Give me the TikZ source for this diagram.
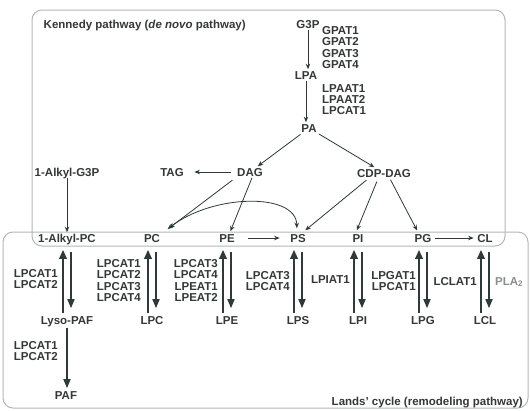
\documentclass[tikz,border=0pt]{standalone}
\usepackage{fontspec}
\setmainfont{Liberation Sans}
\usetikzlibrary{arrows.meta}
\definecolor{txt}{HTML}{353838}
\definecolor{arr}{HTML}{2E3A3A}
\definecolor{boxc}{HTML}{B4B8B8}
\definecolor{pla}{HTML}{8A8E8E}
\newcommand\lipf{\fontsize{11.5}{11.4}\selectfont\bfseries}
\tikzset{
  met/.style={font=\lipf, text=txt, inner sep=1.5pt, text height=8.2pt, text depth=0pt},
  enz/.style={font=\lipf, text=txt, inner sep=0pt, align=left},
  enzr/.style={font=\lipf, text=txt, inner sep=0pt, align=right},
  framebox/.style={draw=boxc, line width=1pt, rounded corners=10pt},
  thinarr/.style={draw=arr, line width=0.8pt, -{Stealth[length=5.5pt,width=4.5pt]}},
  boththin/.style={draw=arr, line width=0.8pt, {Stealth[length=5.5pt,width=4.5pt]}-{Stealth[length=5.5pt,width=4.5pt]}},
  uparr/.style={draw=arr, line width=1.8pt, -{Triangle[length=9pt,width=7.5pt]}, shorten <=1pt, shorten >=6pt},
  downarr/.style={draw=arr, line width=1.6pt, -{Triangle[length=9pt,width=7pt]}, shorten <=8pt, shorten >=6pt}
}
\begin{document}
\begin{tikzpicture}[x=1pt,y=-1pt]
\useasboundingbox (0,0) rectangle (530,410);
\fill[white] (0,0) rectangle (530,410);
% frames
\draw[framebox] (3,232) rectangle (528,408);
\draw[framebox] (32,10) rectangle (505,246);
% Kennedy pathway
\node[met, anchor=west] (title) at (42,24) {Kennedy pathway ({\itshape de novo} pathway)};
\node[met] (g3p) at (308,24) {G3P};
\node[enz, anchor=north west] (gpat) at (322,26) {GPAT1\\GPAT2\\GPAT3\\GPAT4};
\node[met] (lpa) at (306,75) {LPA};
\node[enz, anchor=north west] (lpaat) at (322,84) {LPAAT1\\LPAAT2\\LPCAT1};
\node[met] (pa) at (309,128) {PA};
\node[met] (dag) at (250,172) {DAG};
\node[met] (tag) at (172,172) {TAG};
\node[met] (cdpdag) at (384,173) {CDP-DAG};
\node[met] (alkylg3p) at (67,172) {1-Alkyl-G3P};
% phospholipid row
\node[met] (alkylpc) at (67,238) {1-Alkyl-PC};
\node[met] (pc) at (152,238) {PC};
\node[met] (pe) at (227,238) {PE};
\node[met] (ps) at (298,238) {PS};
\node[met] (pi) at (358,238) {PI};
\node[met] (pg) at (423,238) {PG};
\node[met] (cl) at (485,238) {CL};
% lyso row
\node[met] (lysopaf) at (67,320) {Lyso-PAF};
\node[met] (lpc) at (152,320) {LPC};
\node[met] (lpe) at (227,320) {LPE};
\node[met] (lps) at (298,320) {LPS};
\node[met] (lpi) at (358,320) {LPI};
\node[met] (lpg) at (423,320) {LPG};
\node[met] (lcl) at (485,320) {LCL};
\node[met] (paf) at (66,395) {PAF};
% enzyme labels
\node[enzr, anchor=north east] (e1) at (58,269) {LPCAT1\\LPCAT2};
\node[enzr, anchor=north east] (e2) at (141,259) {LPCAT1\\LPCAT2\\LPCAT3\\LPCAT4};
\node[enzr, anchor=north east] (e3) at (218,259) {LPCAT3\\LPCAT4\\LPEAT1\\LPEAT2};
\node[enzr, anchor=north east] (e4) at (290,271) {LPCAT3\\LPCAT4};
\node[enzr, anchor=east] (e5) at (350,280) {LPIAT1};
\node[enzr, anchor=north east] (e6) at (416,271) {LPGAT1\\LPCAT1};
\node[enzr, anchor=east] (e7) at (477,282) {LCLAT1};
\node[enz, anchor=west, text=pla] (e8) at (495,282) {PLA\textsubscript{2}};
\node[enzr, anchor=north east] (e9) at (58,341) {LPCAT1\\LPCAT2};
\node[met, anchor=base east, inner sep=0pt] (lands) at (523,405) {Lands' cycle (remodeling pathway)};
% Kennedy arrows
\draw[thinarr] (g3p) -- (g3p |- lpa.north);
\draw[thinarr] (lpa) -- (lpa |- pa.north);
\draw[thinarr, shorten <=1pt] (pa) -- (dag);
\draw[thinarr, shorten <=1pt] (pa) -- (cdpdag);
\draw[thinarr, shorten <=5pt, shorten >=9pt] (dag) -- (tag);
\draw[thinarr] (alkylg3p) -- (alkylpc);
\draw[thinarr, shorten <=4pt, shorten >=7pt] (dag.south west) -- ([xshift=2pt]pc.north east);
\draw[thinarr, shorten >=1pt] ([xshift=2pt]dag.south) -- ([xshift=3pt]pe.north);
\draw[boththin, shorten >=4pt, shorten <=5pt] ([xshift=2pt]pc.north east) .. controls (212,194) and (296,192) .. ([xshift=-1pt]ps.north);
\draw[thinarr, shorten <=12pt, shorten >=9pt] (pe.east) -- (ps.west);
\draw[thinarr, shorten <=2pt, shorten >=3pt] ([xshift=-16pt]cdpdag.south) -- ([xshift=5pt]ps.north);
\draw[thinarr, shorten <=3pt, shorten >=2pt] ([xshift=-6pt]cdpdag.south) -- ([xshift=-2pt]pi.north);
\draw[thinarr, shorten <=1pt, shorten >=2pt] ([xshift=6pt]cdpdag.south) -- ([xshift=-5pt]pg.north);
\draw[thinarr, shorten <=2pt, shorten >=2pt] (pg.east) -- (cl.west);
% Lands' cycle arrows
\foreach \up/\lo in {alkylpc/lysopaf, pc/lpc, pe/lpe, ps/lps, pi/lpi, pg/lpg, cl/lcl}{
  \draw[uparr] ([xshift=-4pt]\lo.north) -- ([xshift=-4pt]\up.south);
  \draw[downarr] ([xshift=4pt]\up.south) -- ([xshift=4pt]\lo.north);
}
\draw[downarr, shorten <=2pt, shorten >=1pt] (lysopaf) -- (lysopaf |- paf.north);
\end{tikzpicture}
\end{document}
